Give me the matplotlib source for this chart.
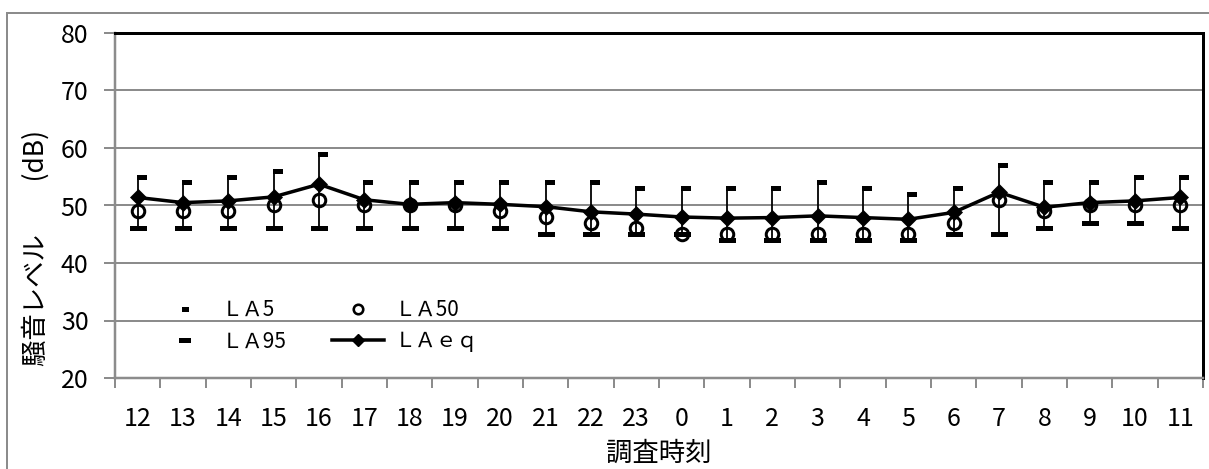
import numpy as np
import matplotlib.pyplot as plt
from matplotlib.path import Path
from matplotlib.lines import Line2D
from matplotlib.patches import Rectangle

plt.rcParams['font.family'] = ['Noto Sans CJK JP', 'DejaVu Sans']

hours = ['12', '13', '14', '15', '16', '17', '18', '19', '20', '21', '22', '23',
         '0', '1', '2', '3', '4', '5', '6', '7', '8', '9', '10', '11']
la5 = [55, 54, 55, 56, 59, 54, 54, 54, 54, 54, 54, 53, 53, 53, 53, 54, 53, 52, 53, 57, 54, 54, 55, 55]
la50 = [49, 49, 49, 50, 51, 50, 50, 50, 49, 48, 47, 46, 45, 45, 45, 45, 45, 45, 47, 51, 49, 50, 50, 50]
la95 = [46, 46, 46, 46, 46, 46, 46, 46, 46, 45, 45, 45, 45, 44, 44, 44, 44, 44, 45, 45, 46, 47, 47, 46]
laeq = [51.4, 50.5, 50.8, 51.5, 53.7, 51.0, 50.2, 50.5, 50.2, 49.8, 48.9, 48.5,
        48.0, 47.8, 47.9, 48.2, 47.9, 47.6, 48.8, 52.3, 49.7, 50.5, 50.8, 51.4]

W, H = 1209, 469
GRAY = '#8c8c8c'
PX = 72 / 100  # points per pixel


def rect_marker(x0, x1, h):
    verts = [(x0, -h), (x1, -h), (x1, h), (x0, h), (x0, -h)]
    return Path(verts, [Path.MOVETO, Path.LINETO, Path.LINETO, Path.LINETO, Path.CLOSEPOLY])


flag = rect_marker(-1.5, 8.5, 2.5)   # LA5 cap, offset to the right
bar = rect_marker(-8.5, 8.5, 2.5)    # LA95 bar

fig = plt.figure(figsize=(W / 100, H / 100), dpi=100)
fig.patches.append(Rectangle((7 / W, -0.1), 1.2, (H - 13) / H + 0.1, transform=fig.transFigure,
                             fill=False, edgecolor=GRAY, lw=2 * PX))
ax = fig.add_axes([115 / W, (H - 378) / H, (1203 - 115) / W, (378 - 33) / H])

x = np.arange(len(hours))

ax.vlines(x, la95, la5, color='black', lw=1.8 * PX, zorder=3)
ax.plot(x, la5, ls='none', marker=flag, ms=17 * PX, mfc='black', mec='black', mew=0, zorder=4)
ax.plot(x, la50, ls='none', marker='o', ms=12.5 * PX, mfc='none', mec='black', mew=3 * PX, zorder=4)
ax.plot(x, la95, ls='none', marker=bar, ms=17 * PX, mfc='black', mec='black', mew=0, zorder=4)
ax.plot(x, laeq, color='black', lw=3.5 * PX, marker='D', ms=11 * PX, mfc='black', mec='black',
        mew=0.5, zorder=5)

ax.set_xlim(-0.5, len(hours) - 0.5)
ax.set_ylim(20, 80)
ax.set_yticks(np.arange(20, 81, 10))
ax.yaxis.grid(True, color=GRAY, lw=2 * PX)
ax.set_axisbelow(True)

ax.set_xticks(np.arange(len(hours) + 1) - 0.5)
ax.set_xticklabels([])
ax.set_xticks(x, minor=True)
ax.set_xticklabels(hours, minor=True)
ax.tick_params(axis='x', which='major', direction='out', length=7, width=2 * PX, color=GRAY)
ax.tick_params(axis='x', which='minor', length=0, pad=20, labelsize=18)
ax.tick_params(axis='y', direction='out', length=8, width=2 * PX, color=GRAY, pad=11, labelsize=18)

for s in ['left', 'bottom']:
    ax.spines[s].set_color(GRAY)
    ax.spines[s].set_linewidth(2.5 * PX)
for s in ['top', 'right']:
    ax.spines[s].set_color('black')
    ax.spines[s].set_linewidth(3 * PX)

fig.text(659 / W, 1 - 453 / H, '調査時刻', ha='center', va='center', fontsize=19)
fig.text(36 / W, 1 - 248 / H, '騒音レベル　　(dB)', ha='center', va='center', rotation=90, fontsize=19)

leg_flag = rect_marker(-3.5, 3.5, 2.5)
leg_bar = rect_marker(-6, 6, 2.5)
handles = [
    Line2D([], [], ls='none', marker=leg_flag, ms=7 * PX, mfc='black', mew=0),
    Line2D([], [], ls='none', marker=leg_bar, ms=12 * PX, mfc='black', mew=0),
    Line2D([], [], ls='none', marker='o', ms=9.5 * PX, mfc='none', mec='black', mew=2.6 * PX),
    Line2D([], [], color='black', lw=3.5 * PX, marker='D', ms=9 * PX, mfc='black', mec='black'),
]
labels = ['ＬＡ5', 'ＬＡ95', 'ＬＡ50', 'ＬＡｅｑ']
ax.legend(handles, labels, ncol=2, frameon=False, fontsize=15, loc='upper left',
          bbox_to_anchor=(159 / W, 1 - 299 / H), bbox_transform=fig.transFigure,
          borderpad=0, borderaxespad=0, handlelength=2.5, handletextpad=0.5,
          columnspacing=2.2, labelspacing=0.45)

fig.savefig('out.png', dpi=100)
